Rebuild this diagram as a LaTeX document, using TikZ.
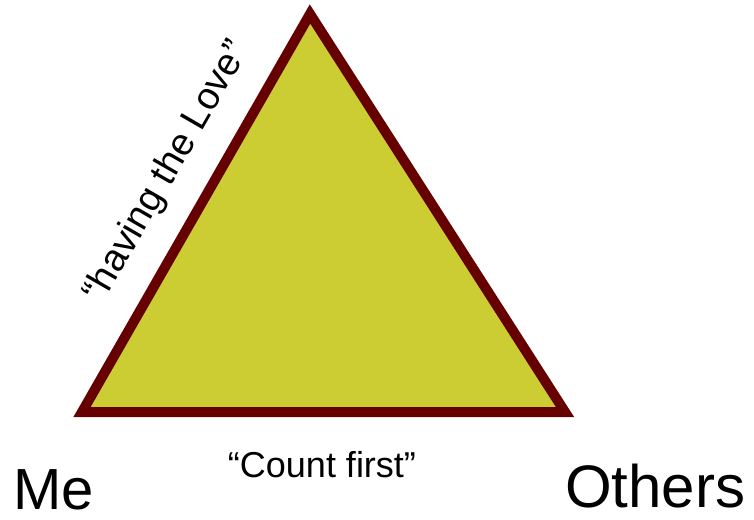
\documentclass[tikz,border=0pt]{standalone}
\usepackage{fontspec}
\setmainfont{Liberation Sans}
\definecolor{edgeRed}{HTML}{660000}
\definecolor{oliveFill}{HTML}{CCCC33}
\begin{document}
\begin{tikzpicture}[x=1pt,y=-1pt,
  bigLabel/.style={inner sep=0pt,text depth=0pt,font=\fontsize{58}{60}\selectfont},
  quoteLabel/.style={inner sep=0pt,font=\fontsize{36}{40}\selectfont}]
\useasboundingbox (0,0) rectangle (754,519);
\coordinate (apex) at (310,14);
\coordinate (bl) at (82,412);
\coordinate (br) at (565,412);
\filldraw[fill=oliveFill,draw=edgeRed,line width=10pt,line join=miter] (bl) -- (apex) -- (br) -- cycle;
\node[bigLabel,anchor=base west] (me) at (13,509) {Me};
\node[bigLabel,anchor=base west,font=\fontsize{60}{62}\selectfont] (others) at (565,507) {Others};
\node[quoteLabel,anchor=base] (count) at (322,477) {“Count first”};
\node[quoteLabel,anchor=base,rotate=60,font=\fontsize{38}{40}\selectfont] (love) at (176,177) {“having the Love”};
\end{tikzpicture}
\end{document}
